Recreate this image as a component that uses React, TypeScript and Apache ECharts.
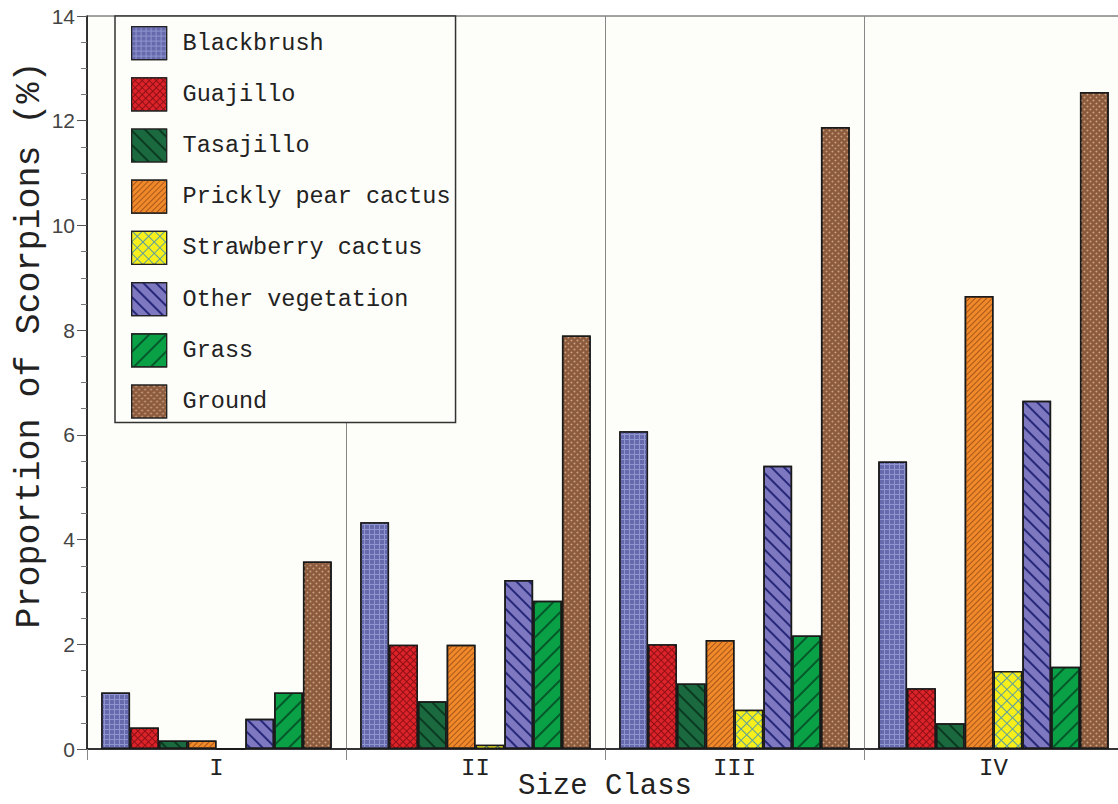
import React, { useEffect, useRef } from "react";
import * as echarts from "echarts";

// Size classes on the x axis
const sizeClasses = ["I", "II", "III", "IV"];

// Proportion of scorpions (%) found on each substrate, per size class
const blackbrush = [1.08, 4.33, 6.07, 5.49];
const guajillo = [0.41, 1.99, 2.0, 1.16];
const tasajillo = [0.16, 0.91, 1.25, 0.49];
const pricklyPear = [0.16, 1.99, 2.08, 8.65];
const strawberryCactus = [0, 0.08, 0.75, 1.49];
const otherVegetation = [0.58, 3.23, 5.41, 6.65];
const grass = [1.08, 2.83, 2.17, 1.57];
const ground = [3.58, 7.9, 11.88, 12.55];

const MONO = "'Courier New', 'Liberation Mono', monospace";

type Substrate = {
  name: string;
  values: number[];
  color: string;
  decal: Record<string, unknown>;
};

// For the lattice patterns the bar colour is the line colour and the
// decal tiles carry the fill colour, leaving thin lines between them.
const substrates: Substrate[] = [
  {
    name: "Blackbrush",
    values: blackbrush,
    color: "#8f95cf",
    decal: {
      symbol: "rect",
      symbolSize: 1,
      color: "#666aac",
      dashArrayX: [4, 1],
      dashArrayY: [4, 1],
      rotation: 0,
    },
  },
  {
    name: "Guajillo",
    values: guajillo,
    color: "#8e1016",
    decal: {
      symbol: "rect",
      symbolSize: 1,
      color: "#dc2329",
      dashArrayX: [3.5, 1],
      dashArrayY: [3.5, 1],
      rotation: Math.PI / 4,
    },
  },
  {
    name: "Tasajillo",
    values: tasajillo,
    color: "#1b6a3f",
    decal: {
      symbol: "rect",
      symbolSize: 1,
      color: "#0a3a20",
      dashArrayX: [1, 0],
      dashArrayY: [1.2, 8],
      rotation: Math.PI / 4,
    },
  },
  {
    name: "Prickly pear cactus",
    values: pricklyPear,
    color: "#f0892a",
    decal: {
      symbol: "rect",
      symbolSize: 1,
      color: "#a9561a",
      dashArrayX: [1, 0],
      dashArrayY: [1, 3],
      rotation: -Math.PI / 4,
    },
  },
  {
    name: "Strawberry cactus",
    values: strawberryCactus,
    color: "#5e9e9a",
    decal: {
      symbol: "rect",
      symbolSize: 1,
      color: "#f6ef1c",
      dashArrayX: [7, 1],
      dashArrayY: [7, 1],
      rotation: Math.PI / 4,
    },
  },
  {
    name: "Other vegetation",
    values: otherVegetation,
    color: "#7d78bf",
    decal: {
      symbol: "rect",
      symbolSize: 1,
      color: "#27287a",
      dashArrayX: [1, 0],
      dashArrayY: [1.2, 7],
      rotation: Math.PI / 4,
    },
  },
  {
    name: "Grass",
    values: grass,
    color: "#0aa046",
    decal: {
      symbol: "rect",
      symbolSize: 1,
      color: "#05582a",
      dashArrayX: [1, 0],
      dashArrayY: [1.2, 10],
      rotation: -Math.PI / 4,
    },
  },
  {
    name: "Ground",
    values: ground,
    color: "#8c5a3c",
    // staggered light dots
    decal: {
      symbol: "circle",
      symbolSize: 0.6,
      color: "#c9a283",
      dashArrayX: [
        [3, 3],
        [0, 3, 3, 0],
      ],
      dashArrayY: [3, 0],
      rotation: 0,
    },
  },
];

export default function App() {
  const ref = useRef<HTMLDivElement>(null);

  useEffect(() => {
    if (!ref.current) return;
    const chart = echarts.init(ref.current, undefined, { renderer: "svg" });

    chart.setOption({
      animation: false,
      backgroundColor: "#ffffff",
      grid: {
        left: 87,
        top: 16,
        right: -5,
        bottom: 55,
        outerBoundsMode: "none",
        containLabel: false,
        show: true,
        backgroundColor: "#fdfdf9",
        borderColor: "#444",
        borderWidth: 1,
      },
      legend: {
        orient: "vertical",
        left: 115,
        top: 16,
        padding: [10, 5, 4, 16],
        icon: "rect",
        itemWidth: 35,
        itemHeight: 33,
        itemGap: 17,
        backgroundColor: "#fdfdf9",
        borderColor: "#333",
        borderWidth: 1.5,
        selectedMode: false,
        itemStyle: { borderColor: "#222", borderWidth: 1.2 },
        textStyle: {
          fontFamily: MONO,
          fontSize: 23.5,
          color: "#222",
          padding: [0, 0, 0, 11],
        },
        data: substrates.map((s) => s.name),
      },
      xAxis: {
        type: "category",
        data: sizeClasses,
        boundaryGap: true,
        axisLine: { show: true, lineStyle: { color: "#111", width: 1.5 } },
        axisTick: {
          show: true,
          alignWithLabel: false,
          length: 11,
          lineStyle: { color: "#888", width: 1 },
        },
        splitLine: { show: true, lineStyle: { color: "#888", width: 1 } },
        axisLabel: {
          fontFamily: MONO,
          fontSize: 24,
          color: "#222",
          margin: 7,
        },
      },
      yAxis: {
        type: "value",
        min: 0,
        max: 14,
        interval: 2,
        axisLine: { show: true, lineStyle: { color: "#111", width: 1.5 } },
        axisTick: {
          show: true,
          length: 10,
          lineStyle: { color: "#555", width: 1 },
        },
        minorTick: {
          show: true,
          splitNumber: 4,
          length: 6,
          lineStyle: { color: "#777", width: 1 },
        },
        splitLine: { show: false },
        axisLabel: {
          fontFamily: "'Liberation Sans', Arial, sans-serif",
          fontSize: 21,
          color: "#444",
          margin: 12,
        },
      },
      graphic: [
        {
          type: "text",
          x: 30,
          y: 345,
          rotation: Math.PI / 2,
          style: {
            text: "Proportion of Scorpions (%)",
            font: `35px ${MONO}`,
            fill: "#222",
            textAlign: "center",
            textVerticalAlign: "middle",
          },
        },
        {
          type: "text",
          x: 605,
          y: 786,
          style: {
            text: "Size Class",
            font: `29px ${MONO}`,
            fill: "#222",
            textAlign: "center",
            textVerticalAlign: "middle",
          },
        },
      ],
      series: substrates.map((s) => ({
        name: s.name,
        type: "bar",
        data: s.values,
        barGap: "0%",
        barCategoryGap: "11%",
        itemStyle: {
          color: s.color,
          borderColor: "#1a1a1a",
          borderWidth: 1.5,
          decal: s.decal,
        },
        emphasis: { disabled: true },
      })),
    });

    return () => chart.dispose();
  }, []);

  return (
    <div
      ref={ref}
      style={{ position: "fixed", left: 0, top: 0, width: 1118, height: 804 }}
    />
  );
}
